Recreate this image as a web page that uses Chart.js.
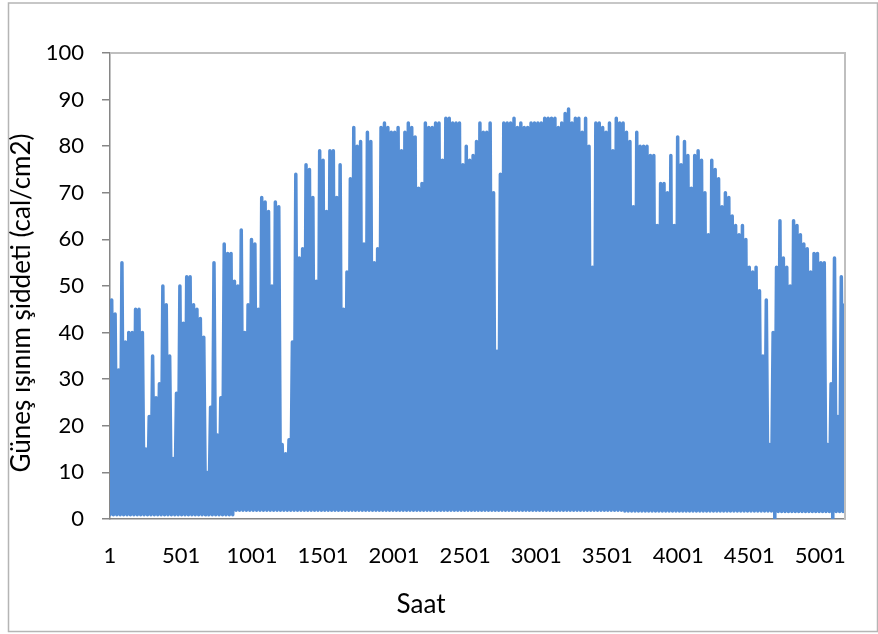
<!DOCTYPE html>
<html><head><meta charset="utf-8">
<script src="https://cdn.jsdelivr.net/npm/chart.js@4/dist/chart.umd.min.js"></script>
<style>html,body{margin:0;padding:0;background:#fff}canvas{display:block}</style>
</head><body>
<canvas id="c" width="878" height="634"></canvas>
<script>
// ---- data ----
const xTitle = 'Saat';
const yTitle = 'Güneş ışınım şiddeti (cal/cm2)';
const xTickLabels = [1, 501, 1001, 1501, 2001, 2501, 3001, 3501, 4001, 4501, 5001];
const yTickStep = 10;
const hoursPerDay = 24;
// daily peak radiation (one value per day, read from the envelope)
const dayPeaks = [
  47, 44, 32, 55, 38, 40, 40, 45, 45, 40, 15, 22, 35, 26, 29, 50, 46, 35, 13, 27,
  50, 42, 52, 52, 46, 45, 43, 39, 10, 24, 55, 18, 26, 59, 57, 57, 51, 50, 62, 40,
  46, 60, 59, 45, 69, 68, 66, 50, 68, 67, 16, 14, 17, 38, 74, 56, 58, 76, 75, 69,
  51, 79, 77, 66, 79, 79, 69, 76, 45, 53, 73, 84, 80, 81, 59, 83, 81, 55, 58, 84,
  85, 84, 83, 83, 84, 79, 83, 85, 84, 82, 71, 72, 85, 84, 84, 85, 85, 77, 86, 86,
  85, 85, 85, 76, 80, 77, 78, 81, 85, 83, 83, 85, 70, 36, 74, 85, 85, 85, 86, 84,
  85, 84, 84, 85, 85, 85, 85, 86, 86, 86, 86, 84, 85, 87, 88, 85, 86, 86, 83, 86,
  80, 54, 85, 85, 84, 83, 85, 79, 86, 85, 85, 83, 81, 67, 83, 80, 80, 80, 78, 78,
  63, 72, 72, 70, 78, 63, 82, 76, 81, 78, 71, 78, 79, 77, 70, 61, 77, 75, 73, 67,
  70, 69, 65, 63, 61, 63, 60, 54, 53, 54, 49, 35, 47, 16, 40, 54, 64, 56, 54, 50,
  64, 63, 61, 59, 58, 53, 57, 57, 55, 55, 16, 29, 56, 22, 52, 46
];
// night-time minimum at each midnight (one more than the number of days)
const nightLows = [
  0.9, 0.9, 0.9, 0.9, 0.9, 0.9, 0.9, 0.9, 0.9, 0.9, 0.9, 0.9, 0.9, 0.9, 0.9, 0.9, 0.9, 0.9, 0.9, 0.9,
  0.9, 0.9, 0.9, 0.9, 0.9, 0.9, 0.9, 0.9, 0.9, 0.9, 0.9, 0.9, 0.9, 0.9, 0.9, 0.9, 0.9, 1.9, 1.9, 1.9,
  1.9, 1.9, 1.9, 1.9, 1.9, 1.9, 1.9, 1.9, 1.9, 1.9, 1.9, 1.9, 1.9, 1.9, 1.9, 1.9, 1.9, 1.9, 1.9, 1.9,
  1.9, 1.9, 1.9, 1.9, 1.9, 1.9, 1.9, 1.9, 1.9, 1.9, 1.9, 1.9, 1.9, 1.9, 1.9, 1.9, 1.9, 1.9, 1.9, 1.9,
  1.9, 1.9, 1.9, 1.9, 1.9, 1.9, 1.9, 1.9, 1.9, 1.9, 1.9, 1.9, 1.9, 1.9, 1.9, 1.9, 1.9, 1.9, 1.9, 1.9,
  1.9, 1.9, 1.9, 1.9, 1.9, 1.9, 1.9, 1.9, 1.9, 1.9, 1.9, 1.9, 1.9, 1.9, 1.9, 1.9, 1.9, 1.9, 1.9, 1.9,
  1.9, 1.9, 1.9, 1.9, 1.9, 1.9, 1.9, 1.9, 1.9, 1.9, 1.9, 1.9, 1.9, 1.9, 1.9, 1.9, 1.9, 1.9, 1.9, 1.9,
  1.9, 1.9, 1.9, 1.9, 1.9, 1.9, 1.9, 1.9, 1.9, 1.9, 1.9, 1.7, 1.7, 1.7, 1.7, 1.7, 1.7, 1.7, 1.7, 1.7,
  1.7, 1.7, 1.7, 1.7, 1.7, 1.7, 1.7, 1.7, 1.7, 1.7, 1.7, 1.7, 1.7, 1.7, 1.7, 1.7, 1.7, 1.7, 1.7, 1.7,
  1.7, 1.7, 1.7, 1.7, 1.7, 1.7, 1.7, 1.7, 1.7, 1.7, 1.7, 1.7, 1.7, 1.7, 1.7, 0.0, 1.6, 1.6, 1.6, 1.6,
  1.6, 1.6, 1.6, 1.6, 1.6, 1.6, 1.6, 1.6, 1.6, 1.6, 1.6, 1.6, 0.0, 1.6, 1.6, 1.6, 1.6
];
const xMin = 1, xMax = 5175;

// ---- build series ----
const points = [];
for (let d = 0; d < dayPeaks.length; d++) {
  points.push({ x: d * hoursPerDay + 1, y: nightLows[d] });
  points.push({ x: d * hoursPerDay + 13, y: dayPeaks[d] });
}
points.push({ x: dayPeaks.length * hoursPerDay + 1, y: nightLows[dayPeaks.length] });

const FONT = 'Lato, "Open Sans", sans-serif';

const framePlugin = {
  id: 'frame',
  beforeDraw(chart) {
    const ctx = chart.ctx;
    ctx.save();
    ctx.fillStyle = '#ffffff';
    ctx.fillRect(0, 0, chart.width, chart.height);
    ctx.strokeStyle = '#b5b5b5';
    ctx.lineWidth = 1.5;
    ctx.strokeRect(8.5, 3, 869, 628.5);
    ctx.restore();
  },
  afterDraw(chart) {
    const { ctx, chartArea: a } = chart;
    ctx.save();
    ctx.strokeStyle = '#bfbfbf';
    ctx.lineWidth = 2;
    ctx.beginPath();
    ctx.moveTo(a.left, a.top);
    ctx.lineTo(a.right, a.top);
    ctx.lineTo(a.right, a.bottom);
    ctx.stroke();
    ctx.fillStyle = '#000';
    ctx.font = '26px ' + FONT;
    ctx.textAlign = 'center';
    ctx.textBaseline = 'middle';
    ctx.fillText(xTitle, 421, 605);
    ctx.translate(22, 303);
    ctx.rotate(-Math.PI / 2);
    ctx.fillText(yTitle, 0, 0);
    ctx.restore();
  }
};

function draw() {
  new Chart(document.getElementById('c'), {
    type: 'line',
    data: {
      datasets: [{
        data: points,
        borderColor: '#558ED5',
        borderWidth: 3.5,
        borderJoinStyle: 'round',
        borderCapStyle: 'round',
        pointRadius: 0,
        tension: 0,
        fill: false
      }]
    },
    options: {
      responsive: false,
      animation: false,
      events: [],
      layout: { padding: { top: 53, right: 33, left: 0, bottom: 0 } },
      plugins: { legend: { display: false }, tooltip: { enabled: false } },
      scales: {
        x: {
          type: 'linear',
          min: xMin,
          max: xMax,
          afterBuildTicks: s => { s.ticks = xTickLabels.map(v => ({ value: v })); },
          afterFit: s => { s.height = 115; },
          grid: { display: false, drawTicks: false },
          border: { display: true, color: '#868686', width: 1.5 },
          ticks: {
            autoSkip: false, maxRotation: 0, padding: 24, color: '#000',
            font: { family: FONT, size: 22 },
            callback: v => String(v)
          }
        },
        y: {
          min: 0,
          max: 100,
          afterFit: s => { s.width = 110; },
          grid: { display: true, drawOnChartArea: false, drawTicks: true, tickLength: 8, color: '#868686', lineWidth: 1.5 },
          border: { display: true, color: '#868686', width: 1.5 },
          ticks: { stepSize: yTickStep, padding: 18, color: '#000', font: { family: FONT, size: 22 } }
        }
      }
    },
    plugins: [framePlugin]
  });
}

if (document.fonts && document.fonts.load) {
  Promise.all([document.fonts.load('22px Lato'), document.fonts.load('26px Lato')]).then(draw, draw);
} else { draw(); }
</script>
</body></html>
